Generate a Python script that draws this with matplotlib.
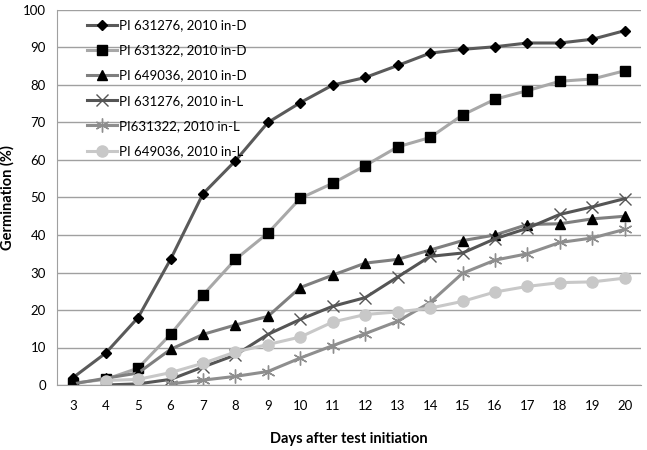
import numpy as np
import matplotlib
matplotlib.use("Agg")
import matplotlib.pyplot as plt

plt.rcParams['font.family'] = ['Lato', 'DejaVu Sans']

days = list(range(3, 21))
nan = np.nan

s1 = [2, 8.5, 18, 33.5, 51, 59.8, 70, 75.3, 80, 82, 85.2, 88.5, 89.5, 90.2, 91.2, 91.2, 92.2, 94.5]
s2 = [0.5, 1.5, 4.5, 13.5, 24, 33.5, 40.5, 49.8, 53.8, 58.5, 63.5, 66, 72, 76.2, 78.5, 81, 81.6, 83.8]
s3 = [0.3, 1.8, 3.2, 9.5, 13.5, 16, 18.3, 26, 29.3, 32.5, 33.5, 36, 38.5, 40, 42.8, 43, 44.3, 45]
s4 = [nan, 0, 0.3, 1.5, 4.8, 8, 13.5, 17.5, 21, 23.3, 28.8, 34.3, 35.2, 39, 41.8, 45.5, 47.5, 49.7]
s5 = [nan, nan, nan, 0.3, 1.3, 2.3, 3.6, 7.2, 10.5, 13.7, 17, 22, 29.8, 33.3, 35, 38, 39.2, 41.5]
s6 = [nan, 1.2, 1.5, 3.3, 5.8, 8.8, 10.8, 12.8, 16.8, 18.8, 19.5, 20.5, 22.3, 24.8, 26.3, 27.3, 27.5, 28.5]

labels = ["PI 631276, 2010 in-D", "PI 631322, 2010 in-D", "PI 649036, 2010 in-D",
          "PI 631276, 2010 in-L", "PI631322, 2010 in-L", "PI 649036, 2010 in-L"]
series = [s1, s2, s3, s4, s5, s6]

styles = [
    dict(color='#5a5a5a', marker='D', ms=5, mfc='black', mec='black'),
    dict(color='#a8a8a8', marker='s', ms=7.5, mfc='black', mec='black'),
    dict(color='#7f7f7f', marker='^', ms=7, mfc='black', mec='black'),
    dict(color='#555555', marker='x', ms=8, mfc='none', mec='#555555', mew=1.0),
    dict(color='#8e8e8e', marker=(6, 2, 0), ms=10, mec='#8e8e8e', mew=1.0),
    dict(color='#c8c8c8', marker='o', ms=8, mfc='#c8c8c8', mec='#c8c8c8'),
]

fig = plt.figure(figsize=(6.47, 4.5), dpi=100)
ax = fig.add_axes([57/647, 65/450, (641-57)/647, (385-10)/450])

for y, lab, st in zip(series, labels, styles):
    ax.plot(days, y, lw=2.2, label=lab, **st)

ax.set_xlim(2.5, 20.5)
ax.set_ylim(0, 100)
ax.set_xticks(days)
ax.set_yticks(range(0, 101, 10))
ax.grid(axis='y', color='#a0a0a0', lw=1)
ax.set_axisbelow(True)
for s in ['top', 'right']:
    ax.spines[s].set_visible(False)
for s in ['left', 'bottom']:
    ax.spines[s].set_color('#a0a0a0')
ax.tick_params(axis='both', length=0, labelsize=9.5, colors='black')
ax.tick_params(axis='x', pad=11)
ax.tick_params(axis='y', pad=8)

ax.set_xlabel("Days after test initiation", fontsize=10.5, fontweight='bold', labelpad=14)
ax.set_ylabel("Germination (%)", fontsize=10.5, fontweight='bold')
ax.yaxis.set_label_coords(-0.072, 0.5)

leg = ax.legend(loc='upper left', bbox_to_anchor=(0.035, 1.0), frameon=False,
                fontsize=9.5, handlelength=2.3, handletextpad=0.15, labelspacing=1.0,
                borderaxespad=0.3)

fig.savefig("out.png", dpi=100)
